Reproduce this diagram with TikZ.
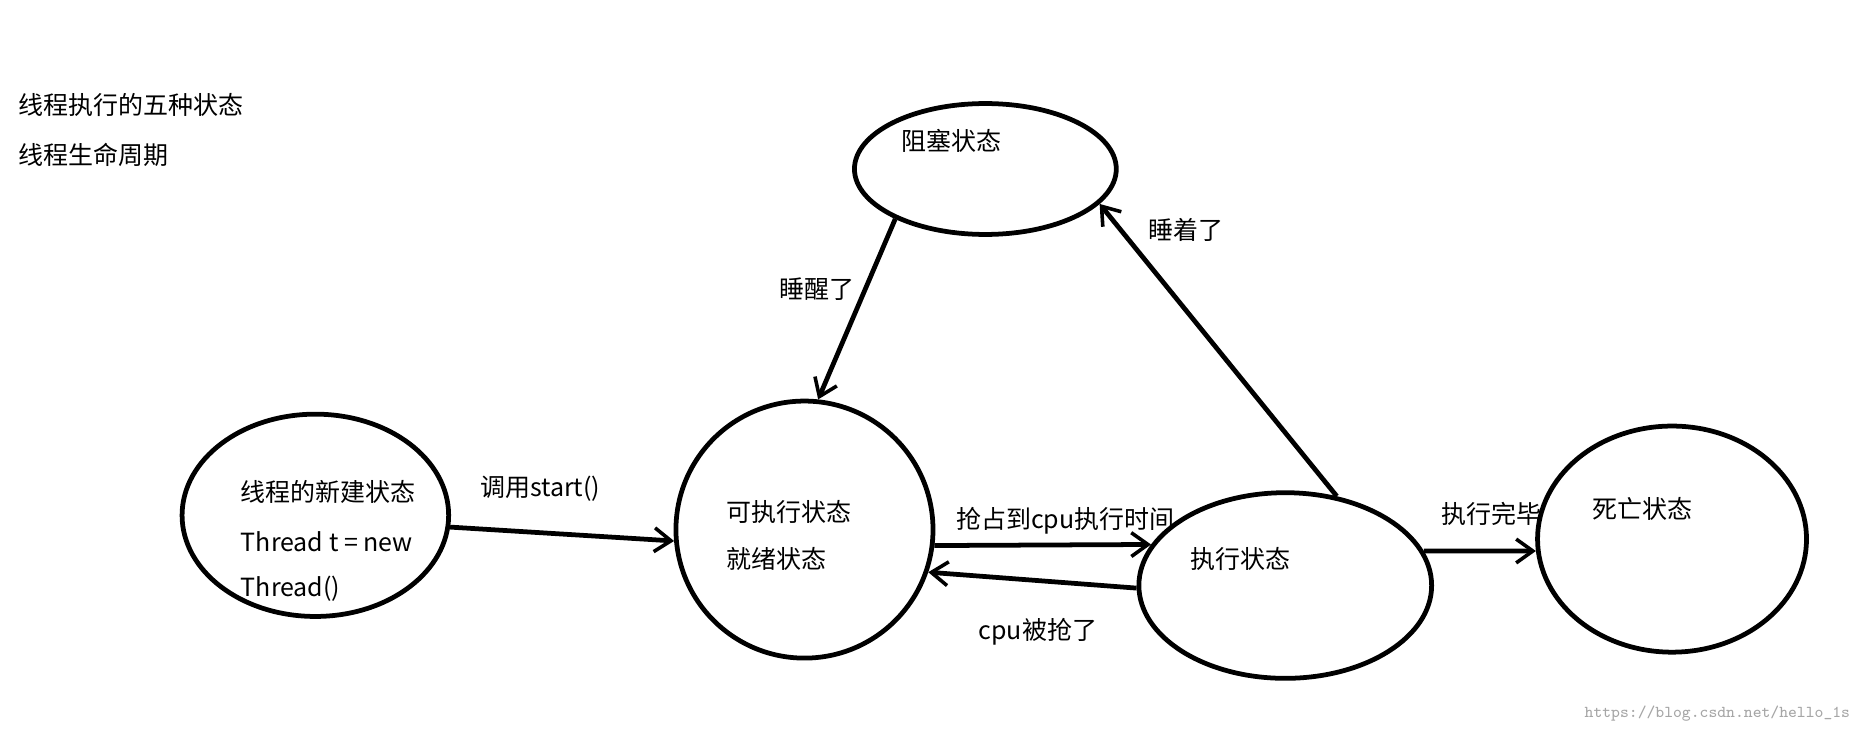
\documentclass[tikz,border=0pt]{standalone}
\usepackage{fontspec}
\newfontfamily\cjk{Noto Sans CJK SC}
\usetikzlibrary{shapes.geometric,arrows.meta}
\begin{document}
\begin{tikzpicture}[x=0.5pt,y=-0.5pt,
  st/.style={ellipse,draw,line width=2pt,inner sep=0pt},
  lb/.style={font=\cjk\fontsize{10.5}{12}\selectfont,anchor=west,inner sep=0pt},
  ar/.style={line width=2pt,-{Straight Barb[length=7pt,width=10pt,line width=1.5pt]}}]
\useasboundingbox (0,0) rectangle (1568,618);
\node[st,minimum width=110pt,minimum height=55pt] (blk) at (828,142) {};
\node[st,minimum width=112pt,minimum height=85pt] (new) at (265,433) {};
\node[st,minimum width=108pt,minimum height=108pt] (run) at (676,445) {};
\node[st,minimum width=123pt,minimum height=78pt] (exe) at (1080,492) {};
\node[st,minimum width=113pt,minimum height=95pt] (dead) at (1405,453) {};
\node[lb] (t1) at (15,88) {线程执行的五种状态};
\node[lb] (t2) at (15,130) {线程生命周期};
\node[lb] (bt) at (757,118) {阻塞状态};
\node[lb] (n1) at (202,413) {线程的新建状态};
\node[lb] (n2) at (202,455) {Thread t = new};
\node[lb] (n3) at (202,495) {Thread()};
\node[lb] (r1) at (610,430) {可执行状态};
\node[lb] (r2) at (610,470) {就绪状态};
\node[lb] (e1) at (1000,470) {执行状态};
\node[lb] (d1) at (1338,428) {死亡状态};
\node[lb] (l1) at (655,243) {睡醒了};
\node[lb] (l2) at (965,193) {睡着了};
\node[lb] (l3) at (403,411) {调用start()};
\node[lb] (l4) at (803,438) {抢占到cpu执行时间};
\node[lb] (l5) at (822,531) {cpu被抢了};
\node[lb] (l6) at (1211,432) {执行完毕};
\node[anchor=east,inner sep=0pt,font=\ttfamily\fontsize{7}{8}\selectfont,text=gray!70] (wm) at (1555,600) {https://blog.csdn.net/hello\_1s};
\draw[ar] (blk.209) -- (run.84);
\draw[ar] (exe.60) -- (blk.-17);
\draw[ar] (new.-5) -- (run.185);
\draw[ar] (run.-7) -- (exe.163);
\draw[ar] (exe.181) -- (run.-19);
\draw[ar] (exe.14) -- (dead.185);
\end{tikzpicture}
\end{document}
